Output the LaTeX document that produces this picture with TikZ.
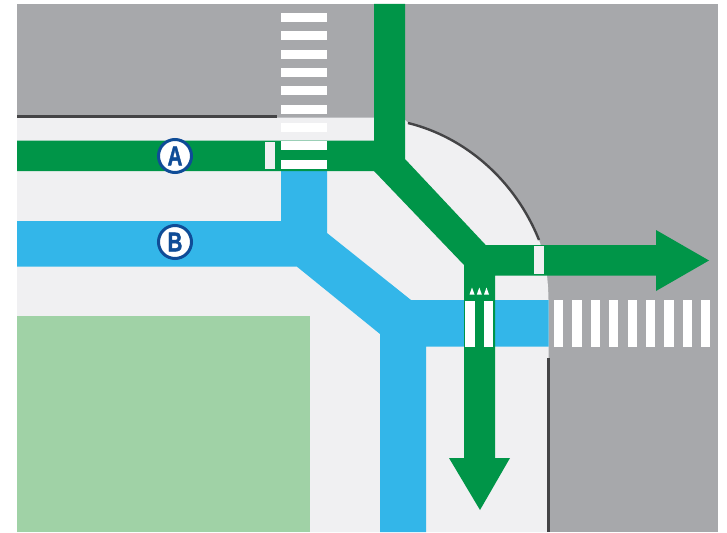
\documentclass[tikz,border=0pt]{standalone}
\usepackage{fontspec}
\setsansfont{Liberation Sans}
\newfontfamily\badgefont[FakeBold=1.6]{Liberation Sans Bold}
\usetikzlibrary{positioning}
\definecolor{roadgray}{HTML}{A7A8AB}
\definecolor{walkgray}{HTML}{F0F0F2}
\definecolor{routegreen}{HTML}{009548}
\definecolor{routeblue}{HTML}{33B6E9}
\definecolor{parkgreen}{HTML}{A0D2A6}
\definecolor{curbgray}{HTML}{444446}
\definecolor{badgeblue}{HTML}{0F4C97}
\tikzset{
  road/.style={fill=roadgray, draw=none},
  walk/.style={fill=walkgray, draw=none},
  park/.style={fill=parkgreen, draw=none},
  greenroute/.style={fill=routegreen, draw=none},
  blueroute/.style={fill=routeblue, draw=none},
  curb/.style={draw=curbgray, line width=2.4pt},
  bar/.style={fill=white, draw=none},
  greybar/.style={fill=walkgray, draw=none},
  badge/.style={circle, draw=badgeblue, fill=white, line width=3pt, minimum size=33pt, inner sep=0pt, text=badgeblue, font=\badgefont\fontsize{27}{27}\selectfont}
}
\newcommand{\slim}[1]{\scalebox{0.76}[1]{#1}}
\begin{document}
\begin{tikzpicture}[x=1pt, y=-1pt]
\useasboundingbox (0,0) rectangle (727,532);
\fill[road] (17,4) rectangle (718,532);
\fill[walk] (17,117.5) -- (374,117.5) -- (405,120) -- (408,123) .. controls (465,137) and (515,180) .. (539,240) .. controls (545,256) and (548,275) .. (548.5,300) -- (548.5,532) -- (17,532) -- cycle;
\fill[park] (17,316) rectangle (310,532);
\draw[curb] (17,116.5) -- (277,116.5);
\draw[curb] (408,123) .. controls (465,137) and (515,180) .. (539,240);
\draw[curb] (548.5,358) -- (548.5,532);
% blue route
\fill[blueroute] (17,221) -- (281,221) -- (281,171) -- (327,171) -- (327,233) -- (411,300) -- (548.5,300) -- (548.5,346.7) -- (426,346.7) -- (426,532) -- (380,532) -- (380,334) -- (297,266.7) -- (17,266.7) -- cycle;
% green route
\fill[greenroute] (17,140.5) -- (374,140.5) -- (374,4) -- (405,4) -- (405,159) -- (485.7,245) -- (656,245) -- (656,230) -- (709,260.5) -- (656,291) -- (656,275.5) -- (495,275.5) -- (495,458) -- (510,458) -- (480,510) -- (449,458) -- (464,458) -- (464,265) -- (374,171) -- (17,171) -- cycle;
% crossings
\foreach \y in {13,31.35,49.7,68.05,86.4,104.75,123.1,141.45,160.2}
  \fill[bar] (281,\y) rectangle (327,\y+9);
\foreach \x in {554,572.4,590.8,609.1,627.5,645.9,664.3,682.7,701.1}
  \fill[bar] (\x,300) rectangle (\x+9.3,346.7);
\fill[bar] (465.3,300.5) rectangle (474.7,346.5);
\fill[bar] (483.7,300.5) rectangle (493,346.5);
\fill[greybar] (265,141.5) rectangle (274.5,169);
\fill[greybar] (534,246) rectangle (543.5,274);
\foreach \x in {472,479.3,486.5}
  \fill[bar] (\x-2.5,294.5) -- (\x,287.5) -- (\x+2.5,294.5) -- cycle;
\node[badge] (a) at (175,156) {\slim{A}};
\node[badge] (b) at (175,242) {\slim{B}};
\end{tikzpicture}
\end{document}
